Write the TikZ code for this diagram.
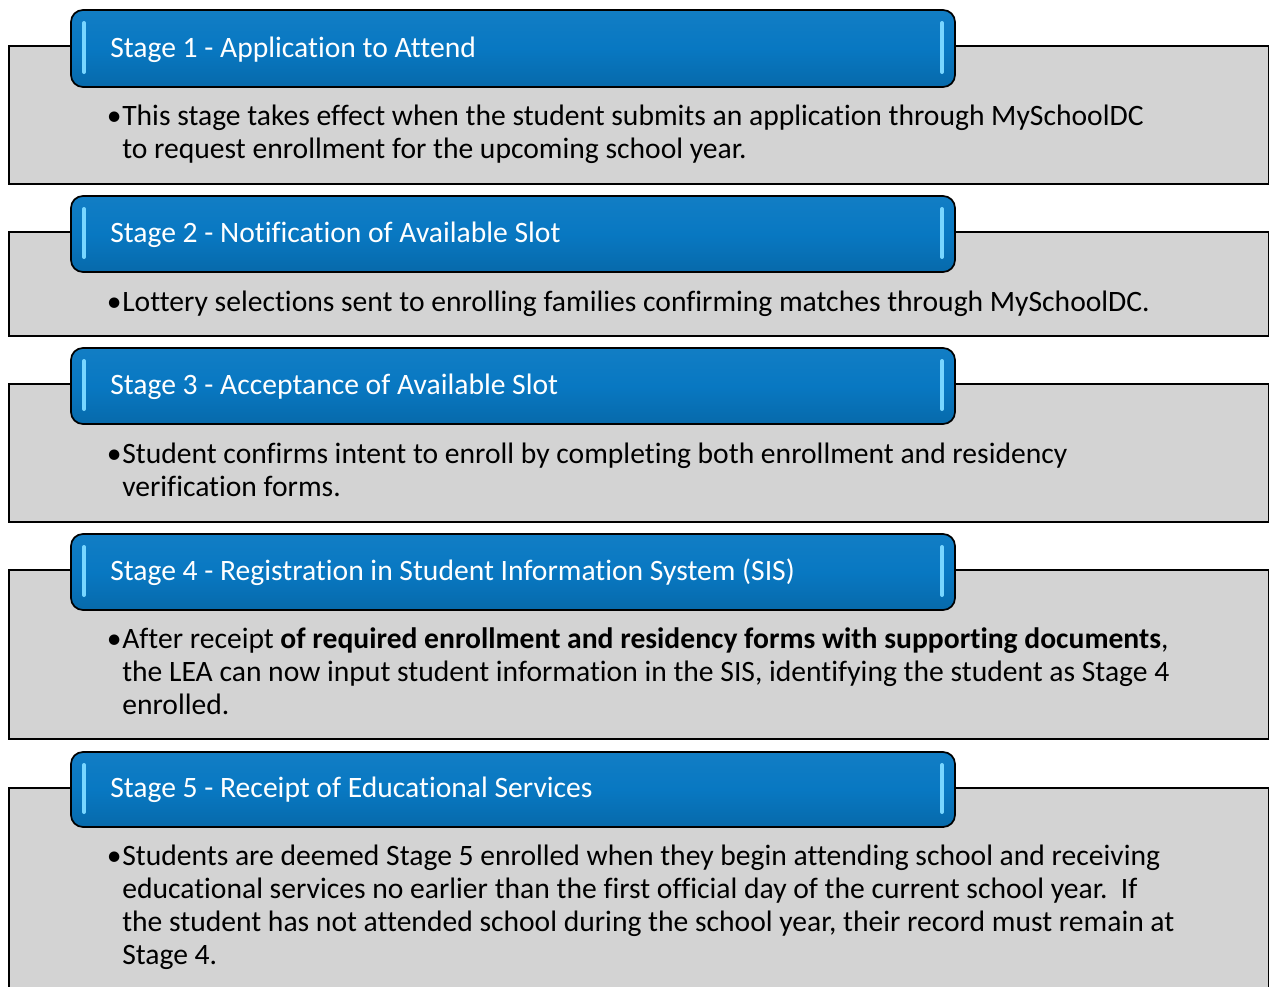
\documentclass[tikz,border=0pt]{standalone}
\usepackage{fontspec}
\setmainfont[RawFeature={-liga}]{Carlito}
\definecolor{hdblue}{RGB}{8,120,194}
\definecolor{boxgray}{RGB}{211,211,211}
\definecolor{glint}{RGB}{120,214,255}
\begin{document}
\begin{tikzpicture}[x=0.75pt,y=-0.75pt,
  graybox/.style={draw=black, line width=1.1pt, fill=boxgray},
  header/.style={draw=black, line width=1.3pt, rounded corners=9pt,
    top color=hdblue!96!white, bottom color=hdblue!88!black, middle color=hdblue, shading angle=0},
  glintbar/.style={draw=glint, line width=3pt, line cap=round},
  htext/.style={anchor=base west, inner sep=0pt, text=white, font=\fontsize{22.2}{26}\selectfont},
  btext/.style={anchor=base west, inner sep=0pt, font=\fontsize{22.2}{24.75}\selectfont},
  bulletmark/.style={anchor=base east, inner sep=0pt, font=\fontsize{22.2}{24.75}\selectfont}]
\useasboundingbox (0,0) rectangle (1270,986);
\clip (0,0) rectangle (1270,986);
\fill[white] (0,0) rectangle (1270,986);

% ---- Stage 1
\draw[graybox] (9,46) rectangle (1268.5,184);
\draw[header] (71,10) rectangle (955,87);
\draw[glintbar] (84,23) -- (84,72);
\draw[glintbar] (942,23) -- (942,72);
\node[htext] (h1) at (110,57) {Stage 1 - Application to Attend};
\node[bulletmark] (b1) at (122,125) {•};
\node[btext] (t1) at (122,125) {\begin{tabular}[t]{@{}l@{}}This stage takes effect when the student submits an application through MySchoolDC\\to request enrollment for the upcoming school year.\end{tabular}};

% ---- Stage 2
\draw[graybox] (9,232) rectangle (1268.5,336);
\draw[header] (71,196) rectangle (955,272);
\draw[glintbar] (84,209) -- (84,257);
\draw[glintbar] (942,209) -- (942,257);
\node[htext] (h2) at (110,242) {Stage 2 - Notification of Available Slot};
\node[bulletmark] (b2) at (122,311) {•};
\node[btext] (t2) at (122,311) {\begin{tabular}[t]{@{}l@{}}Lottery selections sent to enrolling families confirming matches through MySchoolDC.\end{tabular}};

% ---- Stage 3
\draw[graybox] (9,384) rectangle (1268.5,522);
\draw[header] (71,348) rectangle (955,424);
\draw[glintbar] (84,361) -- (84,409);
\draw[glintbar] (942,361) -- (942,409);
\node[htext] (h3) at (110,394) {Stage 3 - Acceptance of Available Slot};
\node[bulletmark] (b3) at (122,463) {•};
\node[btext] (t3) at (122,463) {\begin{tabular}[t]{@{}l@{}}Student confirms intent to enroll by completing both enrollment and residency\\verification forms.\end{tabular}};

% ---- Stage 4
\draw[graybox] (9,570) rectangle (1268.5,739);
\draw[header] (71,534) rectangle (955,610);
\draw[glintbar] (84,547) -- (84,595);
\draw[glintbar] (942,547) -- (942,595);
\node[htext] (h4) at (110,580) {Stage 4 - Registration in Student Information System (SIS)};
\node[bulletmark] (b4) at (122,648) {•};
\node[btext] (t4) at (122,648) {\begin{tabular}[t]{@{}l@{}}After receipt \textbf{of required enrollment and residency forms with supporting documents},\\the LEA can now input student information in the SIS, identifying the student as Stage 4\\enrolled.\end{tabular}};

% ---- Stage 5
\draw[graybox] (9,788) rectangle (1268.5,1000);
\draw[header] (71,752) rectangle (955,827);
\draw[glintbar] (84,765) -- (84,812);
\draw[glintbar] (942,765) -- (942,812);
\node[htext] (h5) at (110,797) {Stage 5 - Receipt of Educational Services};
\node[bulletmark] (b5) at (122,865) {•};
\node[btext] (t5) at (122,865) {\begin{tabular}[t]{@{}l@{}}Students are deemed Stage 5 enrolled when they begin attending school and receiving\\educational services no earlier than the first official day of the current school year.\ \ If\\the student has not attended school during the school year, their record must remain at\\Stage 4.\end{tabular}};
\end{tikzpicture}
\end{document}
